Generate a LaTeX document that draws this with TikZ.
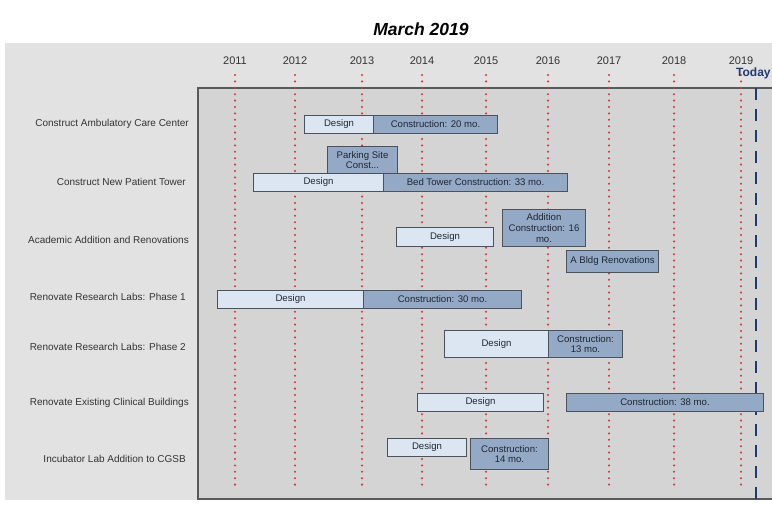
\documentclass[tikz,border=0pt]{standalone}
\usepackage{fontspec}
\setmainfont{Liberation Sans}
\usetikzlibrary{positioning}

\definecolor{panelgray}{HTML}{E2E2E2}
\definecolor{chartgray}{HTML}{D4D4D4}
\definecolor{designblue}{HTML}{DCE6F2}
\definecolor{buildblue}{HTML}{94A9C6}
\definecolor{barline}{HTML}{4B525C}
\definecolor{bartext}{HTML}{1E2733}
\definecolor{todayblue}{HTML}{1F3A73}
\definecolor{dotred}{HTML}{E0303A}

\begin{document}
\begin{tikzpicture}[x=1pt,y=-1pt,
	yearlabel/.style={font=\fontsize{11}{13}\selectfont, text=black!80},
	rowlabel/.style={anchor=east, font=\fontsize{10}{12}\selectfont, text=black!80, inner sep=0pt},
	ganttbar/.style={draw=barline, line width=1pt, inner sep=1pt, align=center, text=bartext,
		font=\fontsize{9.6}{10.8}\selectfont},
	designbar/.style={ganttbar, fill=designblue},
	buildbar/.style={ganttbar, fill=buildblue},
	yearline/.style={dotred, line width=2.3pt, line cap=round, dash pattern=on 0pt off 6.4pt},
	todayline/.style={todayblue, line width=2pt, dash pattern=on 12pt off 9pt}]
	% #1 style, #2 name, #3 x1, #4 y1, #5 x2, #6 y2, #7 text
	\newcommand{\ganttbox}[7]{%
		\node[#1, minimum width={#5pt-#3pt}, minimum height={#6pt-#4pt}, anchor=north west] (#2) at (#3,#4) {#7};}
	
	\clip (0,0) rectangle (772,506);
	\fill[white] (0,0) rectangle (772,506);
	
	% panel and chart area
	\fill[panelgray] (5,43) rectangle (772,500);
	\draw[fill=chartgray, draw=black!65, line width=1.3pt] (198,88) rectangle (780,499);
	
	\node[font=\fontsize{17.5}{20}\selectfont\bfseries\itshape] (title) at (421,29) {March 2019};
	
	% years and dotted lines
	\foreach \xx/\yr in {235/2011,295/2012,362/2013,422/2014,486/2015,548/2016,609/2017,674/2018,741/2019}{
		\node[yearlabel] (y\yr) at (\xx,61) {\yr};
		\coordinate (top\yr) at (\xx,75);
		\coordinate (bot\yr) at (\xx,488);
		\draw[yearline] (top\yr) -- (bot\yr);
	}
	
	% today marker
	\node[anchor=west, font=\fontsize{12}{14}\selectfont\bfseries, text=todayblue, inner sep=0pt] (today) at (736,73) {Today};
	\coordinate (todaytop) at (756,88);
	\coordinate (todaybot) at (756,512);
	\draw[todayline] (todaytop) -- (todaybot);
	
	% row names
	\node[rowlabel] (r1) at (189,124) {Construct Ambulatory Care Center};
	\node[rowlabel] (r2) at (186,182) {Construct New Patient Tower};
	\node[rowlabel] (r3) at (189,240) {Academic Addition and Renovations};
	\node[rowlabel] (r4) at (186,297) {Renovate Research Labs: Phase 1};
	\node[rowlabel] (r5) at (186,347) {Renovate Research Labs: Phase 2};
	\node[rowlabel] (r6) at (189,403) {Renovate Existing Clinical Buildings};
	\node[rowlabel] (r7) at (186,459) {Incubator Lab Addition to CGSB};
	
	% bars
	\ganttbox{designbar}{ambD}{304}{115}{373}{133}{Design}
	\ganttbox{buildbar}{ambC}{373}{115}{497}{133}{Construction: 20 mo.}
	
	\ganttbox{buildbar}{towP}{327}{146}{397}{173}{Parking Site\\Const...}
	\ganttbox{designbar}{towD}{253}{173}{383}{191}{Design}
	\ganttbox{buildbar}{towC}{383}{173}{567}{191}{Bed Tower Construction: 33 mo.}
	
	\ganttbox{designbar}{acaD}{396}{227}{493}{246}{Design}
	\ganttbox{buildbar}{acaC}{502}{209}{585}{246}{Addition\\Construction: 16\\mo.}
	\ganttbox{buildbar}{acaR}{566}{250}{658}{272}{A Bldg Renovations}
	
	\ganttbox{designbar}{labAD}{217}{290}{363}{308}{Design}
	\ganttbox{buildbar}{labAC}{363}{290}{521}{308}{Construction: 30 mo.}
	
	\ganttbox{designbar}{labBD}{444}{330}{548}{357}{Design}
	\ganttbox{buildbar}{labBC}{548}{330}{622}{357}{Construction:\\13 mo.}
	
	\ganttbox{designbar}{cliD}{417}{393}{543}{411}{Design}
	\ganttbox{buildbar}{cliC}{566}{393}{763}{411}{Construction: 38 mo.}
	
	\ganttbox{designbar}{incD}{387}{438}{466}{456}{Design}
	\ganttbox{buildbar}{incC}{470}{438}{548}{469}{Construction:\\14 mo.}
\end{tikzpicture}
\end{document}
